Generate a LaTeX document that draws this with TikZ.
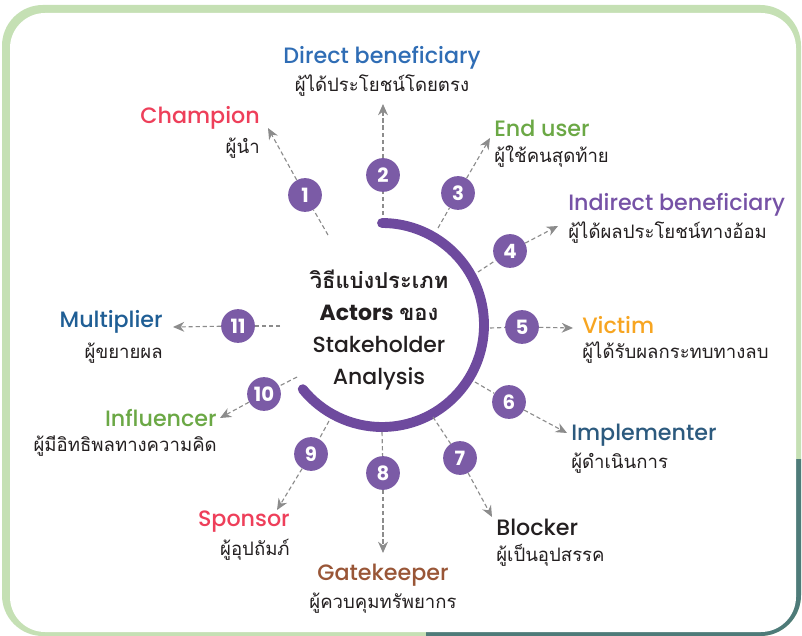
\documentclass[tikz,border=0pt]{standalone}
\usepackage{fontspec}
\setmainfont{Poppins}
\newfontfamily\medfont{Poppins Medium}
\newfontfamily\thaifont[Script=Thai]{Loma}
\usetikzlibrary{arrows.meta}

\definecolor{framegreen}{HTML}{C5E0B4}
\definecolor{frameteal}{HTML}{4E7B79}
\definecolor{ringpurple}{HTML}{6E4A9E}
\definecolor{dotpurple}{HTML}{7B5BA6}
\definecolor{dashgray}{HTML}{8C8C8C}
\definecolor{cBlue}{HTML}{2F6DB5}
\definecolor{cRed}{HTML}{EE3F5A}
\definecolor{cGreen}{HTML}{6BA845}
\definecolor{cPurple}{HTML}{7652A6}
\definecolor{cOrange}{HTML}{F7A521}
\definecolor{cNavy}{HTML}{2C5A7E}
\definecolor{cBrown}{HTML}{995637}
\definecolor{cDark}{HTML}{231F20}
\definecolor{cMulti}{HTML}{1F5E95}

\tikzset{
  numdot/.style={circle, fill=dotpurple, minimum size=24pt, inner sep=0pt, text=white,
    font=\rmfamily\bfseries\fontsize{14}{14}\selectfont},
  hop/.style={dashgray, line width=0.8pt, dash pattern=on 3pt off 2pt},
  hoparrow/.style={hop, -{Stealth[length=8pt, width=7pt]}},
  role/.style={font=\medfont\fontsize{15.8}{18}\selectfont, inner sep=0pt},
  thainame/.style={font=\thaifont\fontsize{13.2}{15}\selectfont, text=cDark, inner sep=0pt},
}

\begin{document}
\begin{tikzpicture}[x=0.025cm, y=-0.025cm]
                \useasboundingbox (0,0) rectangle (802,636);
                % frame
                \begin{scope}
                \clip[rounded corners=29pt] (2,5) rectangle (801,636);
                \fill[framegreen] (0,0) rectangle (802,636);
                \fill[frameteal] (426,459) rectangle (802,636);
                \end{scope}
                \fill[white, rounded corners=25pt] (10,13) rectangle (796,632);

                % ring
                \coordinate (hub) at (382,325);
                \draw[ringpurple, line width=7pt, line cap=round] (hub) ++(-90:102) arc[start angle=-90, end angle=141, radius=102];
                \node[align=center, text=cDark, font=\medfont\fontsize{15.6}{22.7}\selectfont] (title) at (379,330)
                    {{\thaifont\bfseries วิธีแบ่งประเภท}\\{\rmfamily\bfseries Actors} {\thaifont\bfseries ของ}\\Stakeholder\\Analysis};

                % numbered dots
                \node[numdot] (n1) at (305,195) {1};
                \node[numdot] (n2) at (383,175) {2};
                \node[numdot] (n3) at (458,193) {3};
                \node[numdot] (n4) at (510,251) {4};
                \node[numdot] (n5) at (522,327) {5};
                \node[numdot] (n6) at (509,402) {6};
                \node[numdot] (n7) at (460,458) {7};
                \node[numdot] (n8) at (383,473) {8};
                \node[numdot] (n9) at (311,454) {9};
                \node[numdot] (n10) at (264,394) {10};
                \node[numdot] (n11) at (238,326) {11};

                % dash starts and arrow tips
                \coordinate (s1) at (328,235);  \coordinate (t1) at (268,128);
                \coordinate (s2) at (383,215);  \coordinate (t2) at (383,104);
                \coordinate (s3) at (438,228);  \coordinate (t3) at (490,138);
                \coordinate (s4) at (478,272);  \coordinate (t4) at (558,226);
                \coordinate (s5) at (490,328);  \coordinate (t5) at (573,328);
                \coordinate (s6) at (475,382);  \coordinate (t6) at (567,433);
                \coordinate (s7) at (433,417);  \coordinate (t7) at (492,517);
                \coordinate (s8) at (382,432);  \coordinate (t8) at (383,553);
                \coordinate (s9) at (329,421);  \coordinate (t9) at (277,510);
                \coordinate (s10) at (297,377); \coordinate (t10) at (220,418);
                \coordinate (s11) at (280,326); \coordinate (t11) at (173,327);

                \draw[hop] (s1) -- (n1);   \draw[hoparrow] (n1) -- (t1);
                \draw[hop] (s2) -- (n2);   \draw[hoparrow] (n2) -- (t2);
                \draw[hop] (s3) -- (n3);   \draw[hoparrow] (n3) -- (t3);
                \draw[hop] (s4) -- (n4);   \draw[hoparrow] (n4) -- (t4);
                \draw[hop] (s5) -- (n5);   \draw[hoparrow] (n5) -- (t5);
                \draw[hop] (s6) -- (n6);   \draw[hoparrow] (n6) -- (t6);
                \draw[hop] (s7) -- (n7);   \draw[hoparrow] (n7) -- (t7);
                \draw[hop] (s8) -- (n8);   \draw[hoparrow] (n8) -- (t8);
                \draw[hop] (s9) -- (n9);   \draw[hoparrow] (n9) -- (t9);
                \draw[hop] (s10) -- (n10); \draw[hoparrow] (n10) -- (t10);
                \draw[hop] (s11) -- (n11); \draw[hoparrow] (n11) -- (t11);

                % roles
                \node[role, text=cRed, anchor=east] (champ) at (260,118) {Champion};
                \node[thainame, anchor=east] (champTh) at (260,148) {ผู้นำ};
                \node[role, text=cBlue] (direct) at (382,58) {Direct beneficiary};
                \node[thainame] (directTh) at (382,86) {ผู้ได้ประโยชน์โดยตรง};
                \node[role, text=cGreen, anchor=west] (enduser) at (494,128) {End user};
                \node[thainame, anchor=west] (enduserTh) at (494,157) {ผู้ใช้คนสุดท้าย};
                \node[role, text=cPurple, anchor=west] (indirect) at (568,205) {Indirect beneficiary};
                \node[thainame, anchor=west] (indirectTh) at (568,233) {ผู้ได้ผลประโยชน์ทางอ้อม};
                \node[role, text=cOrange, anchor=west] (victim) at (582,325) {Victim};
                \node[thainame, anchor=west] (victimTh) at (582,353) {ผู้ได้รับผลกระทบทางลบ};
                \node[role, text=cNavy, anchor=west] (implem) at (571,435) {Implementer};
                \node[thainame, anchor=west] (implemTh) at (571,463) {ผู้ดำเนินการ};
                \node[role, text=cDark, anchor=west] (blocker) at (496,527) {Blocker};
                \node[thainame, anchor=west] (blockerTh) at (496,555) {ผู้เป็นอุปสรรค};
                \node[role, text=cBrown] (gate) at (383,575) {Gatekeeper};
                \node[thainame] (gateTh) at (383,603) {ผู้ควบคุมทรัพยากร};
                \node[role, text=cRed, anchor=east] (sponsor) at (290,522) {Sponsor};
                \node[thainame, anchor=east] (sponsorTh) at (290,550) {ผู้อุปถัมภ์};
                \node[role, text=cGreen, anchor=east] (influ) at (217,418) {Influencer};
                \node[thainame, anchor=east] (influTh) at (217,446) {ผู้มีอิทธิพลทางความคิด};
                \node[role, text=cMulti, anchor=east] (multi) at (163,322) {Multiplier};
                \node[thainame, anchor=east] (multiTh) at (163,353) {ผู้ขยายผล};
            \end{tikzpicture}
\end{document}
